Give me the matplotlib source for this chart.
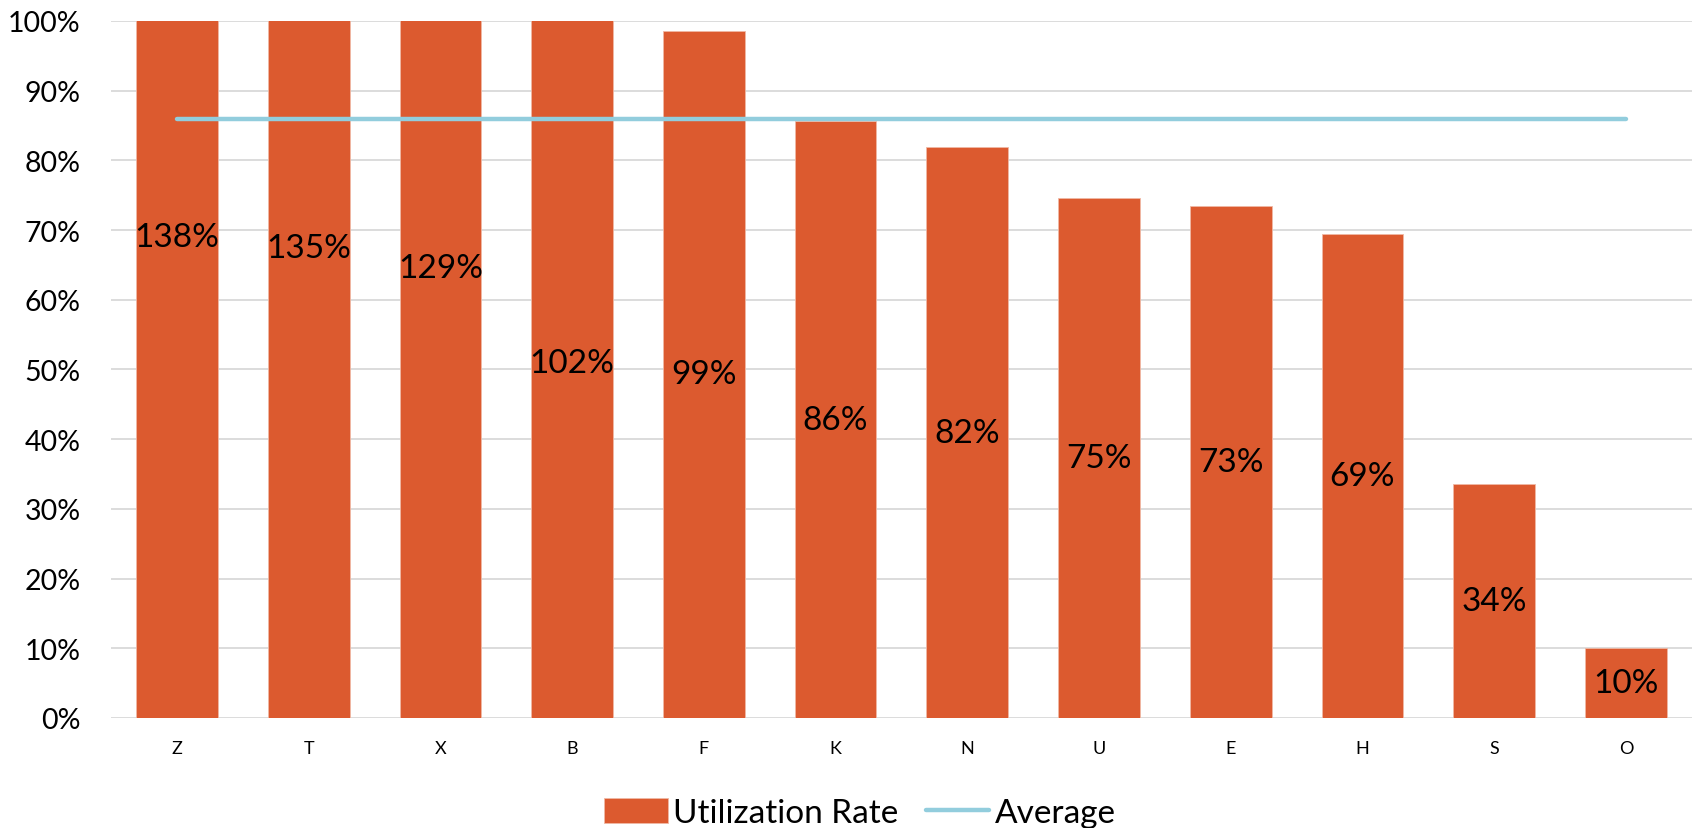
import numpy as np
import matplotlib
matplotlib.use("Agg")
import matplotlib.pyplot as plt
from matplotlib.ticker import PercentFormatter

plt.rcParams['font.family'] = ['Lato', 'DejaVu Sans']

# data
categorias = ['Z', 'T', 'X', 'B', 'F', 'K', 'N', 'U', 'E', 'H', 'S', 'O']
utilizacao = [1.38, 1.35, 1.29, 1.02, 0.986, 0.856, 0.819, 0.746, 0.734, 0.694, 0.336, 0.10]
media = np.mean(utilizacao)

cor_barra = '#DC5A2F'
cor_media = '#92CDDD'

fig = plt.figure(figsize=(16.96, 8.29), dpi=100)
ax = fig.add_axes([0.0655, 0.1327, 0.932, 0.8408])

x = np.arange(len(categorias))
barras = ax.bar(x, utilizacao, width=0.62, color=cor_barra, edgecolor='#F0B9A5', linewidth=0.6,
                label='Utilization Rate', zorder=2)
linha, = ax.plot([x[0], x[-1]], [media, media], color=cor_media, linewidth=3.2,
                 solid_capstyle='round', label='Average', zorder=3)

# rotulos no centro da barra (como no Excel)
for xi, v in zip(x, utilizacao):
    ax.text(xi, v / 2, f'{v:.0%}', ha='center', va='center', fontsize=24, color='black', zorder=4)

ax.set_ylim(0, 1.0)
ax.set_xlim(-0.5, len(categorias) - 0.5)
ax.set_yticks(np.arange(0, 1.01, 0.1))
ax.yaxis.set_major_formatter(PercentFormatter(1.0, decimals=0))
ax.set_xticks(x)
ax.set_xticklabels(categorias)
ax.tick_params(axis='y', labelsize=20.5, length=0, pad=22)
ax.tick_params(axis='x', labelsize=13, length=0, pad=16)

ax.grid(axis='y', color='#D9D9D9', linewidth=1.3, zorder=0)
ax.set_axisbelow(True)
for s in ['top', 'right', 'left', 'bottom']:
    ax.spines[s].set_visible(False)

fig.legend([barras, linha], ['Utilization Rate', 'Average'], loc='center',
           bbox_to_anchor=(0.507, 0.018), ncol=2, frameon=False,
           fontsize=24, handlelength=1.9, handleheight=0.8, columnspacing=0.85,
           handletextpad=0.15)

fig.savefig('out.png', dpi=100)
